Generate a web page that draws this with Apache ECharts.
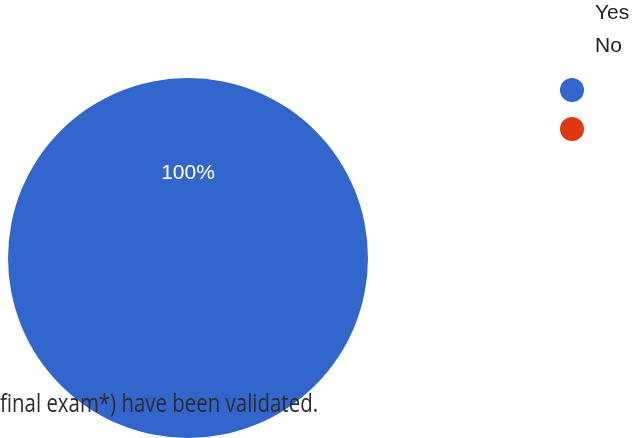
<!DOCTYPE html>
<html><head><meta charset="utf-8">
<script src="https://cdn.jsdelivr.net/npm/echarts@6/dist/echarts.min.js"></script>
<style>html,body{margin:0;padding:0;background:#fff}#c{width:634px;height:438px}</style>
</head><body><div id="c"></div>
<script>
var categories = ["Yes", "No"];
var values = [100, 0];
var colors = ["#3366cc", "#dc3912"];
var caption = "final exam*) have been validated.";

var captionFont = "25px 'Open Sans'";
var mc = document.createElement('canvas').getContext('2d');
mc.font = captionFont;
var capScale = 318 / mc.measureText(caption).width;

var chart = echarts.init(document.getElementById('c'));
chart.setOption({
  animation: false,
  color: colors,
  legend: [
    {
      data: categories, orient: 'vertical', left: 560, top: 78, padding: 0,
      icon: 'circle', itemWidth: 24, itemHeight: 24, itemGap: 15,
      formatter: function(){ return ''; }, selectedMode: false
    },
    {
      data: categories.map(function(n){ return {name: n, icon: 'none'}; }),
      orient: 'vertical', left: 590, top: 1, padding: 0, itemWidth: 0, itemHeight: 24, itemGap: 11,
      textStyle: {fontFamily: "'Liberation Sans', Arial", fontSize: 21, color: '#222'},
      selectedMode: false
    }
  ],
  series: [{
    type: 'pie', center: [188, 258], radius: 180, startAngle: 270,
    data: categories.map(function(n, i){ return {name: n, value: values[i]}; }),
    label: {
      position: 'inside', color: '#fff', fontSize: 21, fontFamily: "'Liberation Sans', Arial",
      offset: [0, 8],
      formatter: function(p){ return p.percent > 0 ? Math.round(p.percent) + '%' : ''; }
    },
    labelLine: {show: false},
    emphasis: {disabled: true}
  }],
  graphic: [{
    type: 'text', x: 0, y: 392, z: 100, scaleX: capScale,
    style: {text: caption, font: captionFont, fill: '#2b2b2b'}
  }]
});
</script></body></html>
